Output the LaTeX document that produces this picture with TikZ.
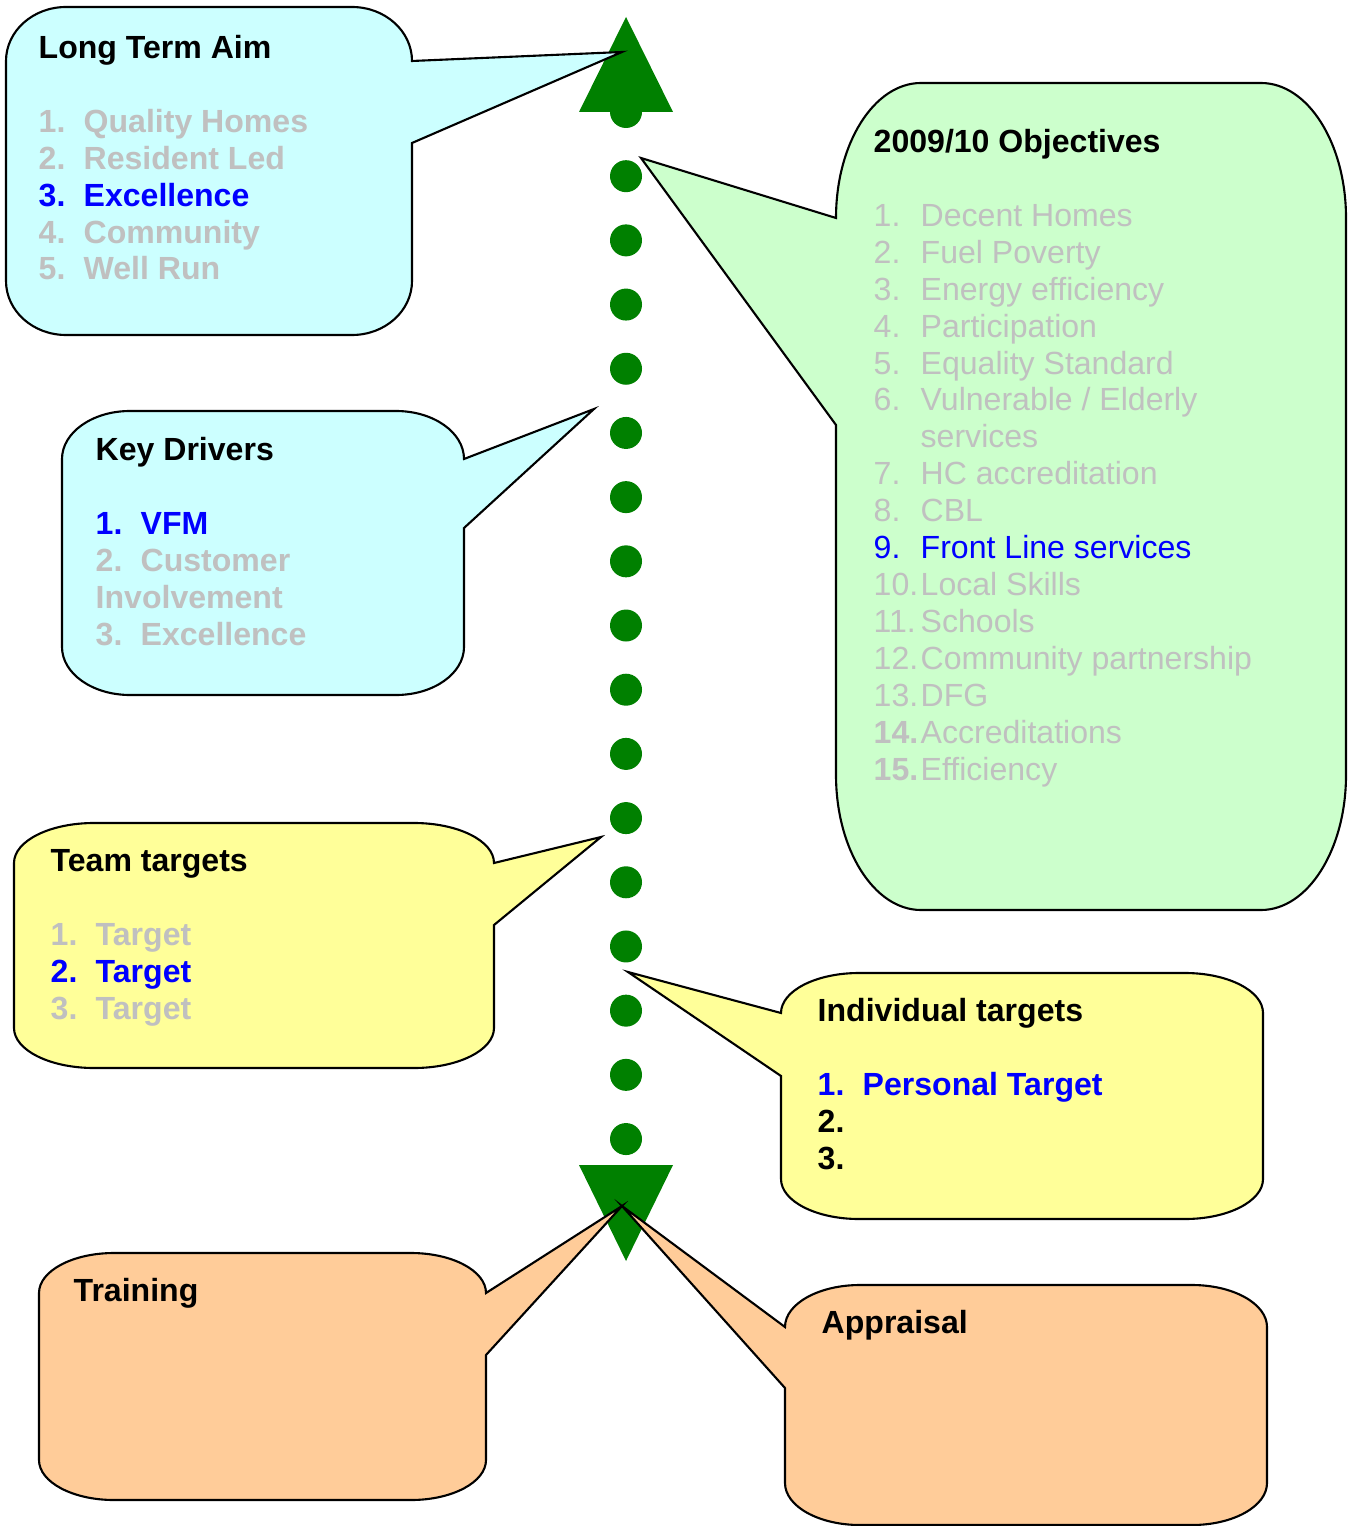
\documentclass[tikz,border=0pt]{standalone}
\usepackage{fontspec}
\setmainfont{Liberation Sans}
\usepackage{xcolor}

\definecolor{cyanfill}{RGB}{204,255,255}
\definecolor{mintfill}{RGB}{204,255,204}
\definecolor{lemonfill}{RGB}{255,255,153}
\definecolor{peachfill}{RGB}{255,204,153}
\definecolor{darkgreen}{RGB}{0,128,0}
\definecolor{fadedgray}{RGB}{192,192,192}
\definecolor{pureblue}{RGB}{0,0,255}

% numbered lines in the callouts
\newcommand{\itm}[3]{\textcolor{#1}{\makebox[4.5mm][l]{#2}#3}}
\newcommand{\obj}[3]{\textcolor{#1}{\makebox[4.7mm][l]{#2}#3}}

\begin{document}
\begin{tikzpicture}[x=0.1mm, y=-0.1mm,
  callout/.style={draw=black, line width=0.6pt},
  boxtext/.style={anchor=base west, align=left, inner sep=0pt,
    font=\fontsize{9.12pt}{10.5pt}\selectfont\bfseries},
  listtext/.style={anchor=base west, align=left, inner sep=0pt,
    font=\fontsize{9.12pt}{10.5pt}\selectfont}]
\useasboundingbox (0,0) rectangle (1355,1526);

% dotted line
\foreach \k in {0,...,16}
  \fill[darkgreen] (626,{112+64.19*\k}) circle [radius=16];

% arrow heads
\fill[darkgreen] (626,17) -- (673,112) -- (579,112) -- cycle;
\fill[darkgreen] (579,1165) -- (673,1165) -- (626,1261) -- cycle;

% callout tips
\coordinate (aimTip) at (622,52);
\coordinate (goalTip) at (641,158);
\coordinate (driverTip) at (594,409);
\coordinate (teamTip) at (601,837);
\coordinate (ownTip) at (628,972);
\coordinate (trainTip) at (622,1206);
\coordinate (reviewTip) at (622,1206);

% Long Term Aim
\draw[callout, fill=cyanfill] (6,61) arc[start angle=180, end angle=270, x radius=60, y radius=54]
  -- (352,7) arc[start angle=270, end angle=360, x radius=60, y radius=54]
  -- (aimTip) -- (412,143) -- (412,281) arc[start angle=0, end angle=90, x radius=60, y radius=54]
  -- (66,335) arc[start angle=90, end angle=180, x radius=60, y radius=54] -- cycle;

% Key Drivers
\draw[callout, fill=cyanfill] (62,459) arc[start angle=180, end angle=270, x radius=68, y radius=48]
  -- (396,411) arc[start angle=270, end angle=360, x radius=68, y radius=48]
  -- (driverTip) -- (464,528) -- (464,647) arc[start angle=0, end angle=90, x radius=68, y radius=48]
  -- (130,695) arc[start angle=90, end angle=180, x radius=68, y radius=48] -- cycle;

% 2009/10 Objectives
\draw[callout, fill=mintfill] (836,218) arc[start angle=180, end angle=270, x radius=85, y radius=135]
  -- (1261,83) arc[start angle=270, end angle=360, x radius=85, y radius=135]
  -- (1346,775) arc[start angle=0, end angle=90, x radius=85, y radius=135]
  -- (921,910) arc[start angle=90, end angle=180, x radius=85, y radius=135]
  -- (836,425) -- (goalTip) -- cycle;

% Team targets
\draw[callout, fill=lemonfill] (14,863) arc[start angle=180, end angle=270, x radius=80, y radius=40]
  -- (414,823) arc[start angle=270, end angle=360, x radius=80, y radius=40]
  -- (teamTip) -- (494,925) -- (494,1028) arc[start angle=0, end angle=90, x radius=80, y radius=40]
  -- (94,1068) arc[start angle=90, end angle=180, x radius=80, y radius=40] -- cycle;

% Individual targets
\draw[callout, fill=lemonfill] (781,1013) arc[start angle=180, end angle=270, x radius=78, y radius=40]
  -- (1185,973) arc[start angle=270, end angle=360, x radius=78, y radius=40]
  -- (1263,1179) arc[start angle=0, end angle=90, x radius=78, y radius=40]
  -- (859,1219) arc[start angle=90, end angle=180, x radius=78, y radius=40]
  -- (781,1076) -- (ownTip) -- cycle;

% Training
\draw[callout, fill=peachfill] (39,1293) arc[start angle=180, end angle=270, x radius=75, y radius=40]
  -- (411,1253) arc[start angle=270, end angle=360, x radius=75, y radius=40]
  -- (trainTip) -- (486,1355) -- (486,1460) arc[start angle=0, end angle=90, x radius=75, y radius=40]
  -- (114,1500) arc[start angle=90, end angle=180, x radius=75, y radius=40] -- cycle;

% Appraisal
\draw[callout, fill=peachfill] (785,1327) arc[start angle=180, end angle=270, x radius=75, y radius=42]
  -- (1192,1285) arc[start angle=270, end angle=360, x radius=75, y radius=42]
  -- (1267,1483) arc[start angle=0, end angle=90, x radius=75, y radius=42]
  -- (860,1525) arc[start angle=90, end angle=180, x radius=75, y radius=42]
  -- (785,1388) -- (reviewTip) -- cycle;

% texts (placed at the baseline of their last line)
\node[boxtext] (aimText) at (38,280) {Long Term Aim\\[10.5pt]
  \itm{fadedgray}{1.}{Quality Homes}\\
  \itm{fadedgray}{2.}{Resident Led}\\
  \itm{pureblue}{3.}{Excellence}\\
  \itm{fadedgray}{4.}{Community}\\
  \itm{fadedgray}{5.}{Well Run}};

\node[boxtext] (driverText) at (95,645) {Key Drivers\\[10.5pt]
  \itm{pureblue}{1.}{VFM}\\
  \itm{fadedgray}{2.}{Customer}\\
  \textcolor{fadedgray}{Involvement}\\
  \itm{fadedgray}{3.}{Excellence}};

\node[listtext] (goalText) at (873,780) {\textbf{2009/10 Objectives}\\[10.5pt]
  \obj{fadedgray}{1.}{Decent Homes}\\
  \obj{fadedgray}{2.}{Fuel Poverty}\\
  \obj{fadedgray}{3.}{Energy efficiency}\\
  \obj{fadedgray}{4.}{Participation}\\
  \obj{fadedgray}{5.}{Equality Standard}\\
  \obj{fadedgray}{6.}{Vulnerable / Elderly}\\
  \obj{fadedgray}{}{services}\\
  \obj{fadedgray}{7.}{HC accreditation}\\
  \obj{fadedgray}{8.}{CBL}\\
  \obj{pureblue}{9.}{Front Line services}\\
  \obj{fadedgray}{10.}{Local Skills}\\
  \obj{fadedgray}{11.}{Schools}\\
  \obj{fadedgray}{12.}{Community partnership}\\
  \obj{fadedgray}{13.}{DFG}\\
  \obj{fadedgray}{\textbf{14.}}{Accreditations}\\
  \obj{fadedgray}{\textbf{15.}}{Efficiency}};

\node[boxtext] (teamText) at (50,1019) {Team targets\\[10.5pt]
  \itm{fadedgray}{1.}{Target}\\
  \itm{pureblue}{2.}{Target}\\
  \itm{fadedgray}{3.}{Target}};

\node[boxtext] (ownText) at (817,1169) {Individual targets\\[10.5pt]
  \itm{pureblue}{1.}{Personal Target}\\
  \itm{black}{2.}{}\\
  \itm{black}{3.}{}};

\node[boxtext] (trainText) at (73,1301) {Training};
\node[boxtext] (reviewText) at (821,1333) {Appraisal};

\end{tikzpicture}
\end{document}
